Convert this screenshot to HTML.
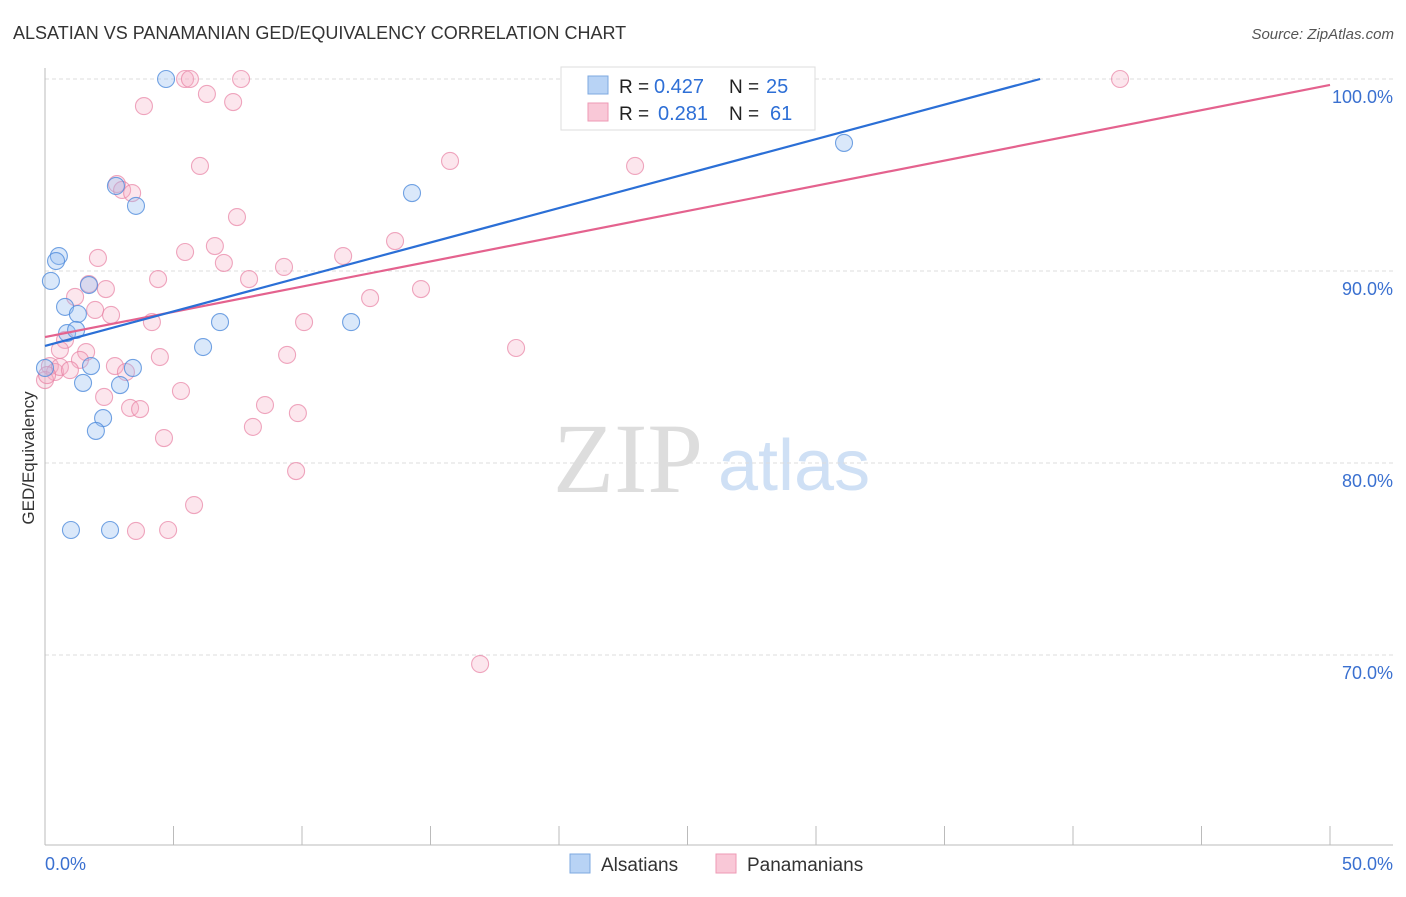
<!DOCTYPE html>
<html><head><meta charset="utf-8"><style>
body{margin:0;background:#fff;font-family:"Liberation Sans",sans-serif;}
svg text{font-family:"Liberation Sans",sans-serif;}
</style></head><body>
<svg id="chart" width="1406" height="892" xmlns="http://www.w3.org/2000/svg">
<text x="13" y="39" font-size="18" fill="#333">ALSATIAN VS PANAMANIAN GED/EQUIVALENCY CORRELATION CHART</text>
<text x="1394" y="39" font-size="15" fill="#555" text-anchor="end" font-style="italic">Source: ZipAtlas.com</text>
<g>
<text x="553" y="492" font-size="100" fill="#ddd" style="font-family:'Liberation Serif',serif">ZIP</text>
<text x="718" y="490" font-size="72" fill="#cfe0f5">atlas</text>
</g>
<g id="grid"></g>
<g id="axes"></g>
<g id="marks"></g>
<text transform="translate(34,458) rotate(-90)" font-size="17" fill="#333" text-anchor="middle">GED/Equivalency</text>
<g>
<rect x="561" y="67" width="254" height="63" fill="#fff" stroke="#ddd"/>
<rect x="588" y="76" width="20" height="18" fill="#b8d3f5" stroke="#7ea8e0"/>
<rect x="588" y="103" width="20" height="18" fill="#f9c8d7" stroke="#ee9ab4"/>
<text x="619" y="93" font-size="19" fill="#222">R =</text>
<text x="654" y="93" font-size="20" fill="#2e6fd6">0.427</text>
<text x="729" y="93" font-size="19" fill="#222">N =</text>
<text x="766" y="93" font-size="20" fill="#2e6fd6">25</text>
<text x="619" y="120" font-size="19" fill="#222">R =</text>
<text x="658" y="120" font-size="20" fill="#2e6fd6">0.281</text>
<text x="729" y="120" font-size="19" fill="#222">N =</text>
<text x="770" y="120" font-size="20" fill="#2e6fd6">61</text>
</g>
<g>
<rect x="570" y="854" width="20" height="19" fill="#b8d3f5" stroke="#7ea8e0"/>
<text x="601" y="871" font-size="19" fill="#333">Alsatians</text>
<rect x="716" y="854" width="20" height="19" fill="#f9c8d7" stroke="#ee9ab4"/>
<text x="747" y="871" font-size="19" fill="#333">Panamanians</text>
</g>
</svg>
<script>
const yTicks=[100,90,80,70];
const yTickLabels=["100.0%","90.0%","80.0%","70.0%"];
const xTickLabels=["0.0%","50.0%"];
const alsatianX=[4.71,2.76,3.54,14.28,31.09,0.54,0.43,0.23,0.78,1.28,0.86,1.21,1.71,6.81,11.91,6.15,1.79,3.42,1.48,2.92,2.26,1.98,1.01,2.53,0];
const alsatianY=[100,94.43,93.39,94.06,96.67,90.78,90.52,89.48,88.13,87.76,86.77,86.93,89.27,87.34,87.34,86.04,85.05,84.95,84.17,84.06,82.34,81.67,76.51,76.51,84.95];
const panamanianX=[5.45,5.64,7.63,23.15,41.83,3.85,6.30,7.32,6.03,15.76,22.96,2.80,3.00,3.39,7.47,2.06,5.45,6.61,13.62,11.60,6.96,4.40,7.94,9.30,14.63,1.71,2.37,1.17,1.95,2.57,4.16,10.08,12.65,18.33,0.78,0.58,1.60,1.36,4.47,9.42,2.72,3.15,0.19,0.39,0.58,0,0.97,5.29,2.30,3.31,3.70,8.56,9.84,8.09,4.63,9.77,5.80,3.54,4.79,16.93,0.08];
const panamanianY=[100,100,100,100,100,98.59,99.22,98.80,95.47,95.73,95.47,94.53,94.22,94.06,92.81,90.68,90.99,91.30,91.56,90.78,90.42,89.58,89.58,90.21,89.06,89.32,89.06,88.65,87.97,87.71,87.34,87.34,88.59,85.99,86.41,85.89,85.78,85.37,85.52,85.63,85.05,84.74,85.05,84.74,85.00,84.32,84.84,83.75,83.44,82.87,82.81,83.02,82.60,81.88,81.30,79.58,77.81,76.46,76.51,69.53,84.58];
const alsatianTrend=[[0,86.1],[38.72,100]];
const panamanianTrend=[[0,86.56],[50,99.69]];
const NS="http://www.w3.org/2000/svg";
const X=v=>45+v/50*1285;
const Y=v=>79+(100-v)*19.2;
function mk(tag,attrs,parent){const e=document.createElementNS(NS,tag);for(const k in attrs)e.setAttribute(k,attrs[k]);document.getElementById(parent).appendChild(e);return e;}
yTicks.forEach((t,i)=>{
  const g=mk('line',{x1:45,x2:1393,y1:Y(t),y2:Y(t),stroke:'#ddd','stroke-dasharray':'4,3'},'grid');
  
  
  const l=mk('text',{x:1393,y:Y(t)+24,'font-size':18,fill:'#3a70d0','text-anchor':'end'},'axes');
  l.textContent=yTickLabels[i];
  
  
});
const ya=mk('line',{x1:45,x2:45,y1:68,y2:845,stroke:'#bbb'},'axes');


const xa=mk('line',{x1:45,x2:1393,y1:845,y2:845,stroke:'#bbb'},'axes');


for(let i=0;i<=10;i++){
  const t=mk('line',{x1:X(i*5),x2:X(i*5),y1:826,y2:845,stroke:'#bbb'},'axes');
  
  
}
[[0,'start',45],[50,'end',1393]].forEach((d,i)=>{
  const l=mk('text',{x:d[2],y:870,'font-size':18,fill:'#3a70d0','text-anchor':d[1]},'axes');
  l.textContent=xTickLabels[i];
  
  
});
function pts(xs,ys,fill,stroke,name){
  xs.forEach((x,i)=>{
    const c=mk('circle',{cx:X(x),cy:Y(ys[i]),r:8.5,fill:fill,stroke:stroke,'stroke-width':1.1},'marks');
    
    
  });
}
pts(panamanianX,panamanianY,'rgba(246,172,197,0.3)','rgba(232,130,164,0.7)','panamanian-point');
pts(alsatianX,alsatianY,'rgba(150,190,240,0.35)','rgba(80,140,220,0.8)','alsatian-point');
function trend(tr,color,name){
  const l=mk('line',{x1:X(tr[0][0]),y1:Y(tr[0][1]),x2:X(tr[1][0]),y2:Y(tr[1][1]),stroke:color,'stroke-width':2.2},'marks');
  
  
}
trend(panamanianTrend,'#e4628e','panamanian-trendline');
trend(alsatianTrend,'#2b6fd6','alsatian-trendline');
</script>
</body></html>
